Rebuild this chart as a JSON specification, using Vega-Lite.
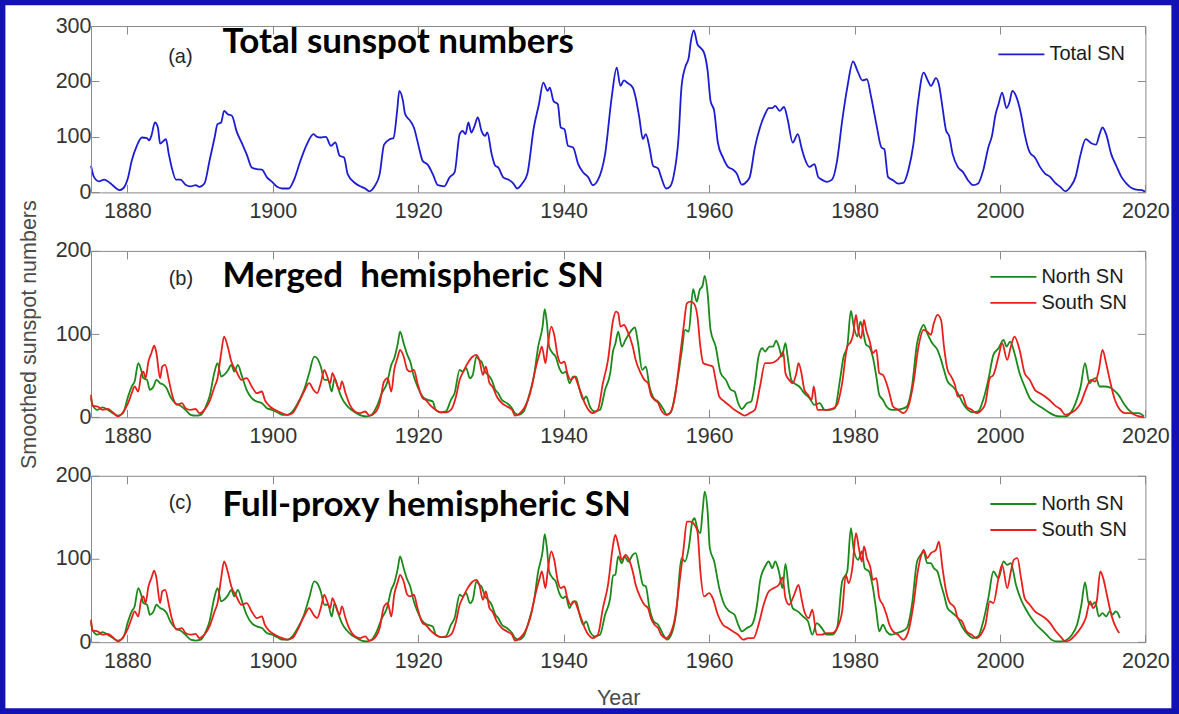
{
  "$schema": "https://vega.github.io/schema/vega-lite/v6.json",
  "background": "#1212b4",
  "padding": {"left": 5, "top": 5, "right": 8, "bottom": 6},
  "bounds": "flush",
  "spacing": 57.9,
  "resolve": {"scale": {"color": "independent"}, "legend": {"color": "independent"}},
  "config": {
    "view": {"stroke": null},
    "font": "Liberation Sans",
    "line": {"interpolate": "monotone"},
    "axis": {
      "zindex": 1, "grid": false,
      "domainColor": "#8a8a8a", "domainWidth": 1,
      "tickColor": "#8a8a8a", "tickWidth": 1, "tickSize": -8,
      "labelColor": "#333333", "labelFontSize": 21.5, "labelFont": "Liberation Sans",
      "labelFlush": false, "labelOverlap": false,
      "titleFont": "Liberation Sans", "titleFontSize": 21.5, "titleFontWeight": "normal", "titleColor": "#4a4a4a"
    },
    "legend": {
      "orient": "none", "title": null, "symbolType": "M-1,0H3", "symbolSize": 529, "symbolStrokeWidth": 1.8,
      "labelFont": "Liberation Sans", "labelFontSize": 20, "labelColor": "#1a1a1a",
      "labelOffset": 27, "padding": 0, "rowPadding": 3
    }
  },
  "datasets": {
    "total": [
      {"year":1875.0,"sn":48},{"year":1875.4,"sn":28},{"year":1876.1,"sn":20},{"year":1876.8,"sn":23},{"year":1877.3,"sn":20},{"year":1877.8,"sn":15},{"year":1878.5,"sn":7},{"year":1878.9,"sn":4},{"year":1879.4,"sn":7},{"year":1880.1,"sn":27},{"year":1880.6,"sn":57},{"year":1881.3,"sn":84},{"year":1882.0,"sn":99},{"year":1882.7,"sn":98},{"year":1883.0,"sn":94},{"year":1883.3,"sn":102},{"year":1883.8,"sn":126},{"year":1884.2,"sn":117},{"year":1884.5,"sn":88},{"year":1885.0,"sn":93},{"year":1885.3,"sn":96},{"year":1885.7,"sn":69},{"year":1886.1,"sn":45},{"year":1886.7,"sn":23},{"year":1887.3,"sn":23},{"year":1888.0,"sn":14},{"year":1888.7,"sn":11},{"year":1889.4,"sn":13},{"year":1889.9,"sn":10},{"year":1890.6,"sn":16},{"year":1891.3,"sn":57},{"year":1892.0,"sn":99},{"year":1892.4,"sn":123},{"year":1892.9,"sn":126},{"year":1893.3,"sn":147},{"year":1893.8,"sn":141},{"year":1894.4,"sn":138},{"year":1895.0,"sn":111},{"year":1895.7,"sn":90},{"year":1896.4,"sn":69},{"year":1897.1,"sn":45},{"year":1897.8,"sn":42},{"year":1898.5,"sn":41},{"year":1899.2,"sn":27},{"year":1899.9,"sn":19},{"year":1900.6,"sn":10},{"year":1901.3,"sn":7},{"year":1902.2,"sn":7},{"year":1902.9,"sn":22},{"year":1903.8,"sn":57},{"year":1904.7,"sn":87},{"year":1905.6,"sn":105},{"year":1906.1,"sn":100},{"year":1906.6,"sn":99},{"year":1907.3,"sn":100},{"year":1908.0,"sn":84},{"year":1908.6,"sn":90},{"year":1909.2,"sn":66},{"year":1909.8,"sn":63},{"year":1910.3,"sn":33},{"year":1911.3,"sn":17},{"year":1912.2,"sn":10},{"year":1912.7,"sn":7},{"year":1913.3,"sn":2},{"year":1914.0,"sn":11},{"year":1914.7,"sn":33},{"year":1915.3,"sn":86},{"year":1916.1,"sn":96},{"year":1916.6,"sn":98},{"year":1917.1,"sn":147},{"year":1917.4,"sn":183},{"year":1917.9,"sn":165},{"year":1918.2,"sn":141},{"year":1918.9,"sn":129},{"year":1919.4,"sn":117},{"year":1920.1,"sn":81},{"year":1920.6,"sn":57},{"year":1921.3,"sn":50},{"year":1922.0,"sn":33},{"year":1922.7,"sn":13},{"year":1923.6,"sn":11},{"year":1924.3,"sn":27},{"year":1925.0,"sn":36},{"year":1925.7,"sn":105},{"year":1926.1,"sn":111},{"year":1926.5,"sn":105},{"year":1926.9,"sn":126},{"year":1927.3,"sn":108},{"year":1927.7,"sn":118},{"year":1928.2,"sn":135},{"year":1928.7,"sn":111},{"year":1929.2,"sn":102},{"year":1929.5,"sn":108},{"year":1930.1,"sn":69},{"year":1930.6,"sn":48},{"year":1931.0,"sn":45},{"year":1931.7,"sn":27},{"year":1932.4,"sn":23},{"year":1933.1,"sn":16},{"year":1933.6,"sn":7},{"year":1934.3,"sn":16},{"year":1935.0,"sn":33},{"year":1935.9,"sn":117},{"year":1936.6,"sn":159},{"year":1937.2,"sn":198},{"year":1937.8,"sn":183},{"year":1938.1,"sn":189},{"year":1938.6,"sn":165},{"year":1939.2,"sn":159},{"year":1939.6,"sn":117},{"year":1940.1,"sn":114},{"year":1940.6,"sn":84},{"year":1941.3,"sn":81},{"year":1942.0,"sn":51},{"year":1942.7,"sn":36},{"year":1943.4,"sn":27},{"year":1944.0,"sn":13},{"year":1944.7,"sn":22},{"year":1945.7,"sn":69},{"year":1946.6,"sn":171},{"year":1947.3,"sn":225},{"year":1947.8,"sn":192},{"year":1948.3,"sn":202},{"year":1948.7,"sn":198},{"year":1949.5,"sn":189},{"year":1949.9,"sn":171},{"year":1950.4,"sn":135},{"year":1950.9,"sn":96},{"year":1951.3,"sn":105},{"year":1951.8,"sn":81},{"year":1952.3,"sn":48},{"year":1953.0,"sn":43},{"year":1953.4,"sn":28},{"year":1954.1,"sn":7},{"year":1954.6,"sn":10},{"year":1955.1,"sn":28},{"year":1955.8,"sn":99},{"year":1956.2,"sn":189},{"year":1956.7,"sn":225},{"year":1957.2,"sn":243},{"year":1957.5,"sn":273},{"year":1957.9,"sn":292},{"year":1958.4,"sn":267},{"year":1958.8,"sn":261},{"year":1959.3,"sn":252},{"year":1959.8,"sn":219},{"year":1960.2,"sn":165},{"year":1960.7,"sn":147},{"year":1961.2,"sn":90},{"year":1961.9,"sn":63},{"year":1962.6,"sn":46},{"year":1963.3,"sn":41},{"year":1963.8,"sn":34},{"year":1964.5,"sn":14},{"year":1965.2,"sn":20},{"year":1965.6,"sn":28},{"year":1966.3,"sn":81},{"year":1967.0,"sn":117},{"year":1967.7,"sn":141},{"year":1968.2,"sn":152},{"year":1968.7,"sn":152},{"year":1969.1,"sn":156},{"year":1969.7,"sn":147},{"year":1970.3,"sn":154},{"year":1970.8,"sn":132},{"year":1971.5,"sn":90},{"year":1972.2,"sn":105},{"year":1972.7,"sn":81},{"year":1973.1,"sn":63},{"year":1973.8,"sn":46},{"year":1974.5,"sn":51},{"year":1975.0,"sn":28},{"year":1975.5,"sn":23},{"year":1976.2,"sn":19},{"year":1976.9,"sn":23},{"year":1977.6,"sn":57},{"year":1978.3,"sn":129},{"year":1979.0,"sn":189},{"year":1979.8,"sn":236},{"year":1980.4,"sn":219},{"year":1981.1,"sn":202},{"year":1981.7,"sn":204},{"year":1982.3,"sn":171},{"year":1983.0,"sn":123},{"year":1983.7,"sn":81},{"year":1984.1,"sn":78},{"year":1984.6,"sn":28},{"year":1985.3,"sn":22},{"year":1986.0,"sn":16},{"year":1986.7,"sn":17},{"year":1987.4,"sn":40},{"year":1988.1,"sn":87},{"year":1988.7,"sn":159},{"year":1989.5,"sn":216},{"year":1990.1,"sn":201},{"year":1990.5,"sn":192},{"year":1991.2,"sn":206},{"year":1991.6,"sn":195},{"year":1992.1,"sn":153},{"year":1992.6,"sn":111},{"year":1993.0,"sn":102},{"year":1993.5,"sn":69},{"year":1994.2,"sn":46},{"year":1994.9,"sn":37},{"year":1995.6,"sn":22},{"year":1996.3,"sn":13},{"year":1997.0,"sn":16},{"year":1997.7,"sn":40},{"year":1998.4,"sn":81},{"year":1998.9,"sn":102},{"year":1999.4,"sn":141},{"year":1999.8,"sn":159},{"year":2000.3,"sn":180},{"year":2000.9,"sn":152},{"year":2001.3,"sn":162},{"year":2001.7,"sn":183},{"year":2002.2,"sn":174},{"year":2002.9,"sn":141},{"year":2003.4,"sn":105},{"year":2004.1,"sn":72},{"year":2004.8,"sn":63},{"year":2005.5,"sn":46},{"year":2006.2,"sn":34},{"year":2006.9,"sn":28},{"year":2007.6,"sn":17},{"year":2008.3,"sn":10},{"year":2009.0,"sn":2},{"year":2009.7,"sn":10},{"year":2010.4,"sn":28},{"year":2011.1,"sn":69},{"year":2011.8,"sn":96},{"year":2012.5,"sn":89},{"year":2013.2,"sn":86},{"year":2013.7,"sn":105},{"year":2014.1,"sn":117},{"year":2014.6,"sn":105},{"year":2015.3,"sn":69},{"year":2016.0,"sn":48},{"year":2016.7,"sn":28},{"year":2017.4,"sn":16},{"year":2018.1,"sn":8},{"year":2018.8,"sn":5},{"year":2019.5,"sn":4},{"year":2020.0,"sn":1}
    ],
    "hemi": [
      {"year":1875.0,"sn":24,"series":"North SN","set":"bc"},{"year":1875.2,"sn":15,"series":"North SN","set":"bc"},{"year":1875.9,"sn":9,"series":"North SN","set":"bc"},{"year":1876.6,"sn":12,"series":"North SN","set":"bc"},{"year":1877.3,"sn":9,"series":"North SN","set":"bc"},{"year":1878.0,"sn":5,"series":"North SN","set":"bc"},{"year":1878.7,"sn":2,"series":"North SN","set":"bc"},{"year":1879.4,"sn":5,"series":"North SN","set":"bc"},{"year":1880.1,"sn":25,"series":"North SN","set":"bc"},{"year":1880.6,"sn":37,"series":"North SN","set":"bc"},{"year":1881.0,"sn":43,"series":"North SN","set":"bc"},{"year":1881.5,"sn":65,"series":"North SN","set":"bc"},{"year":1881.9,"sn":57,"series":"North SN","set":"bc"},{"year":1882.2,"sn":47,"series":"North SN","set":"bc"},{"year":1882.7,"sn":45,"series":"North SN","set":"bc"},{"year":1883.1,"sn":33,"series":"North SN","set":"bc"},{"year":1883.6,"sn":37,"series":"North SN","set":"bc"},{"year":1884.0,"sn":45,"series":"North SN","set":"bc"},{"year":1884.5,"sn":41,"series":"North SN","set":"bc"},{"year":1885.0,"sn":39,"series":"North SN","set":"bc"},{"year":1885.4,"sn":35,"series":"North SN","set":"bc"},{"year":1885.9,"sn":25,"series":"North SN","set":"bc"},{"year":1886.6,"sn":17,"series":"North SN","set":"bc"},{"year":1887.3,"sn":14,"series":"North SN","set":"bc"},{"year":1888.0,"sn":9,"series":"North SN","set":"bc"},{"year":1888.7,"sn":3,"series":"North SN","set":"bc"},{"year":1889.4,"sn":2,"series":"North SN","set":"bc"},{"year":1890.1,"sn":3,"series":"North SN","set":"bc"},{"year":1890.8,"sn":13,"series":"North SN","set":"bc"},{"year":1891.3,"sn":25,"series":"North SN","set":"bc"},{"year":1892.0,"sn":55,"series":"North SN","set":"bc"},{"year":1892.4,"sn":65,"series":"North SN","set":"bc"},{"year":1892.9,"sn":49,"series":"North SN","set":"bc"},{"year":1893.3,"sn":51,"series":"North SN","set":"bc"},{"year":1893.8,"sn":56,"series":"North SN","set":"bc"},{"year":1894.3,"sn":63,"series":"North SN","set":"bc"},{"year":1894.7,"sn":55,"series":"North SN","set":"bc"},{"year":1895.2,"sn":63,"series":"North SN","set":"bc"},{"year":1895.7,"sn":51,"series":"North SN","set":"bc"},{"year":1896.4,"sn":33,"series":"North SN","set":"bc"},{"year":1897.1,"sn":23,"series":"North SN","set":"bc"},{"year":1897.8,"sn":19,"series":"North SN","set":"bc"},{"year":1898.5,"sn":17,"series":"North SN","set":"bc"},{"year":1899.2,"sn":11,"series":"North SN","set":"bc"},{"year":1899.9,"sn":9,"series":"North SN","set":"bc"},{"year":1900.6,"sn":6,"series":"North SN","set":"bc"},{"year":1901.3,"sn":3,"series":"North SN","set":"bc"},{"year":1902.0,"sn":3,"series":"North SN","set":"bc"},{"year":1902.7,"sn":7,"series":"North SN","set":"bc"},{"year":1903.3,"sn":15,"series":"North SN","set":"bc"},{"year":1904.3,"sn":33,"series":"North SN","set":"bc"},{"year":1905.0,"sn":53,"series":"North SN","set":"bc"},{"year":1905.7,"sn":73,"series":"North SN","set":"bc"},{"year":1906.1,"sn":71,"series":"North SN","set":"bc"},{"year":1906.6,"sn":61,"series":"North SN","set":"bc"},{"year":1907.1,"sn":45,"series":"North SN","set":"bc"},{"year":1907.6,"sn":45,"series":"North SN","set":"bc"},{"year":1908.1,"sn":31,"series":"North SN","set":"bc"},{"year":1908.5,"sn":47,"series":"North SN","set":"bc"},{"year":1908.9,"sn":37,"series":"North SN","set":"bc"},{"year":1909.5,"sn":23,"series":"North SN","set":"bc"},{"year":1910.1,"sn":15,"series":"North SN","set":"bc"},{"year":1910.8,"sn":9,"series":"North SN","set":"bc"},{"year":1911.5,"sn":5,"series":"North SN","set":"bc"},{"year":1912.2,"sn":2,"series":"North SN","set":"bc"},{"year":1912.9,"sn":1,"series":"North SN","set":"bc"},{"year":1913.6,"sn":3,"series":"North SN","set":"bc"},{"year":1914.3,"sn":13,"series":"North SN","set":"bc"},{"year":1915.0,"sn":29,"series":"North SN","set":"bc"},{"year":1915.7,"sn":41,"series":"North SN","set":"bc"},{"year":1916.3,"sn":63,"series":"North SN","set":"bc"},{"year":1916.7,"sn":71,"series":"North SN","set":"bc"},{"year":1917.2,"sn":89,"series":"North SN","set":"bc"},{"year":1917.5,"sn":103,"series":"North SN","set":"bc"},{"year":1918.0,"sn":89,"series":"North SN","set":"bc"},{"year":1918.5,"sn":75,"series":"North SN","set":"bc"},{"year":1918.9,"sn":67,"series":"North SN","set":"bc"},{"year":1919.4,"sn":49,"series":"North SN","set":"bc"},{"year":1919.9,"sn":37,"series":"North SN","set":"bc"},{"year":1920.6,"sn":25,"series":"North SN","set":"bc"},{"year":1921.3,"sn":21,"series":"North SN","set":"bc"},{"year":1922.0,"sn":19,"series":"North SN","set":"bc"},{"year":1922.4,"sn":9,"series":"North SN","set":"bc"},{"year":1923.1,"sn":6,"series":"North SN","set":"bc"},{"year":1923.8,"sn":7,"series":"North SN","set":"bc"},{"year":1924.5,"sn":21,"series":"North SN","set":"bc"},{"year":1925.0,"sn":29,"series":"North SN","set":"bc"},{"year":1925.7,"sn":57,"series":"North SN","set":"bc"},{"year":1926.1,"sn":55,"series":"North SN","set":"bc"},{"year":1926.6,"sn":59,"series":"North SN","set":"bc"},{"year":1927.1,"sn":47,"series":"North SN","set":"bc"},{"year":1927.5,"sn":51,"series":"North SN","set":"bc"},{"year":1928.0,"sn":73,"series":"North SN","set":"bc"},{"year":1928.4,"sn":69,"series":"North SN","set":"bc"},{"year":1928.7,"sn":67,"series":"North SN","set":"bc"},{"year":1929.2,"sn":55,"series":"North SN","set":"bc"},{"year":1929.6,"sn":51,"series":"North SN","set":"bc"},{"year":1930.1,"sn":45,"series":"North SN","set":"bc"},{"year":1930.6,"sn":33,"series":"North SN","set":"bc"},{"year":1931.0,"sn":29,"series":"North SN","set":"bc"},{"year":1931.5,"sn":21,"series":"North SN","set":"bc"},{"year":1932.2,"sn":17,"series":"North SN","set":"bc"},{"year":1932.9,"sn":11,"series":"North SN","set":"bc"},{"year":1933.3,"sn":5,"series":"North SN","set":"bc"},{"year":1933.8,"sn":3,"series":"North SN","set":"bc"},{"year":1934.5,"sn":7,"series":"North SN","set":"bc"},{"year":1935.2,"sn":25,"series":"North SN","set":"bc"},{"year":1935.9,"sn":49,"series":"North SN","set":"bc"},{"year":1936.5,"sn":85,"series":"North SN","set":"bc"},{"year":1937.1,"sn":109,"series":"North SN","set":"bc"},{"year":1937.4,"sn":130,"series":"North SN","set":"bc"},{"year":1937.7,"sn":113,"series":"North SN","set":"bc"},{"year":1938.0,"sn":85,"series":"North SN","set":"bc"},{"year":1938.5,"sn":77,"series":"North SN","set":"bc"},{"year":1938.9,"sn":73,"series":"North SN","set":"bc"},{"year":1939.4,"sn":59,"series":"North SN","set":"bc"},{"year":1939.9,"sn":53,"series":"North SN","set":"bc"},{"year":1940.3,"sn":55,"series":"North SN","set":"bc"},{"year":1940.8,"sn":41,"series":"North SN","set":"bc"},{"year":1941.3,"sn":49,"series":"North SN","set":"bc"},{"year":1941.7,"sn":49,"series":"North SN","set":"bc"},{"year":1942.2,"sn":33,"series":"North SN","set":"bc"},{"year":1942.7,"sn":21,"series":"North SN","set":"bc"},{"year":1943.1,"sn":25,"series":"North SN","set":"bc"},{"year":1943.6,"sn":13,"series":"North SN","set":"bc"},{"year":1944.3,"sn":7,"series":"North SN","set":"bc"},{"year":1945.0,"sn":9,"series":"North SN","set":"bc"},{"year":1945.7,"sn":33,"series":"North SN","set":"bc"},{"year":1946.4,"sn":53,"series":"North SN","set":"bc"},{"year":1946.8,"sn":80,"series":"North SN","set":"bc"},

      {"year":1947.1,"sn":88,"series":"North SN","set":"b"},{"year":1947.5,"sn":103,"series":"North SN","set":"b"},{"year":1948.0,"sn":85,"series":"North SN","set":"b"},{"year":1948.5,"sn":93,"series":"North SN","set":"b"},{"year":1949.2,"sn":103,"series":"North SN","set":"b"},{"year":1949.8,"sn":108,"series":"North SN","set":"b"},{"year":1950.2,"sn":91,"series":"North SN","set":"b"},{"year":1950.8,"sn":57,"series":"North SN","set":"b"},{"year":1951.3,"sn":61,"series":"North SN","set":"b"},{"year":1951.8,"sn":37,"series":"North SN","set":"b"},{"year":1952.4,"sn":23,"series":"North SN","set":"b"},{"year":1953.0,"sn":19,"series":"North SN","set":"b"},{"year":1953.7,"sn":10,"series":"North SN","set":"b"},{"year":1954.2,"sn":3,"series":"North SN","set":"b"},{"year":1954.8,"sn":7,"series":"North SN","set":"b"},{"year":1955.5,"sn":37,"series":"North SN","set":"b"},{"year":1956.2,"sn":77,"series":"North SN","set":"b"},{"year":1956.7,"sn":105,"series":"North SN","set":"b"},{"year":1957.2,"sn":103,"series":"North SN","set":"b"},{"year":1957.8,"sn":154,"series":"North SN","set":"b"},{"year":1958.3,"sn":139,"series":"North SN","set":"b"},{"year":1958.7,"sn":153,"series":"North SN","set":"b"},{"year":1959.1,"sn":158,"series":"North SN","set":"b"},{"year":1959.4,"sn":170,"series":"North SN","set":"b"},{"year":1959.8,"sn":149,"series":"North SN","set":"b"},{"year":1960.2,"sn":105,"series":"North SN","set":"b"},{"year":1960.9,"sn":85,"series":"North SN","set":"b"},{"year":1961.6,"sn":53,"series":"North SN","set":"b"},{"year":1962.3,"sn":45,"series":"North SN","set":"b"},{"year":1963.0,"sn":33,"series":"North SN","set":"b"},{"year":1963.5,"sn":31,"series":"North SN","set":"b"},{"year":1964.0,"sn":17,"series":"North SN","set":"b"},{"year":1964.5,"sn":10,"series":"North SN","set":"b"},{"year":1965.2,"sn":17,"series":"North SN","set":"b"},{"year":1965.8,"sn":19,"series":"North SN","set":"b"},{"year":1966.3,"sn":41,"series":"North SN","set":"b"},{"year":1966.8,"sn":73,"series":"North SN","set":"b"},{"year":1967.3,"sn":83,"series":"North SN","set":"b"},{"year":1967.7,"sn":79,"series":"North SN","set":"b"},{"year":1968.3,"sn":85,"series":"North SN","set":"b"},{"year":1968.8,"sn":85,"series":"North SN","set":"b"},{"year":1969.2,"sn":92,"series":"North SN","set":"b"},{"year":1969.6,"sn":85,"series":"North SN","set":"b"},{"year":1970.0,"sn":73,"series":"North SN","set":"b"},{"year":1970.5,"sn":89,"series":"North SN","set":"b"},{"year":1970.8,"sn":73,"series":"North SN","set":"b"},{"year":1971.3,"sn":45,"series":"North SN","set":"b"},{"year":1971.7,"sn":41,"series":"North SN","set":"b"},{"year":1972.4,"sn":37,"series":"North SN","set":"b"},{"year":1973.1,"sn":29,"series":"North SN","set":"b"},{"year":1973.8,"sn":23,"series":"North SN","set":"b"},{"year":1974.5,"sn":15,"series":"North SN","set":"b"},{"year":1975.2,"sn":17,"series":"North SN","set":"b"},{"year":1975.9,"sn":9,"series":"North SN","set":"b"},{"year":1976.6,"sn":9,"series":"North SN","set":"b"},{"year":1977.3,"sn":11,"series":"North SN","set":"b"},{"year":1978.0,"sn":45,"series":"North SN","set":"b"},{"year":1978.5,"sn":73,"series":"North SN","set":"b"},{"year":1979.0,"sn":85,"series":"North SN","set":"b"},{"year":1979.5,"sn":128,"series":"North SN","set":"b"},{"year":1979.9,"sn":109,"series":"North SN","set":"b"},{"year":1980.4,"sn":97,"series":"North SN","set":"b"},{"year":1980.8,"sn":115,"series":"North SN","set":"b"},{"year":1981.1,"sn":107,"series":"North SN","set":"b"},{"year":1981.6,"sn":87,"series":"North SN","set":"b"},{"year":1982.0,"sn":85,"series":"North SN","set":"b"},{"year":1982.5,"sn":73,"series":"North SN","set":"b"},{"year":1983.0,"sn":49,"series":"North SN","set":"b"},{"year":1983.4,"sn":27,"series":"North SN","set":"b"},{"year":1983.9,"sn":21,"series":"North SN","set":"b"},{"year":1984.4,"sn":13,"series":"North SN","set":"b"},{"year":1985.1,"sn":9,"series":"North SN","set":"b"},{"year":1985.8,"sn":9,"series":"North SN","set":"b"},{"year":1986.5,"sn":10,"series":"North SN","set":"b"},{"year":1987.2,"sn":13,"series":"North SN","set":"b"},{"year":1987.9,"sn":37,"series":"North SN","set":"b"},{"year":1988.6,"sn":89,"series":"North SN","set":"b"},{"year":1989.1,"sn":105,"series":"North SN","set":"b"},{"year":1989.5,"sn":111,"series":"North SN","set":"b"},{"year":1990.0,"sn":101,"series":"North SN","set":"b"},{"year":1990.7,"sn":89,"series":"North SN","set":"b"},{"year":1991.4,"sn":81,"series":"North SN","set":"b"},{"year":1991.9,"sn":69,"series":"North SN","set":"b"},{"year":1992.3,"sn":57,"series":"North SN","set":"b"},{"year":1992.8,"sn":43,"series":"North SN","set":"b"},{"year":1993.5,"sn":37,"series":"North SN","set":"b"},{"year":1994.2,"sn":29,"series":"North SN","set":"b"},{"year":1994.9,"sn":17,"series":"North SN","set":"b"},{"year":1995.6,"sn":9,"series":"North SN","set":"b"},{"year":1996.3,"sn":6,"series":"North SN","set":"b"},{"year":1997.0,"sn":7,"series":"North SN","set":"b"},{"year":1997.7,"sn":21,"series":"North SN","set":"b"},{"year":1998.4,"sn":45,"series":"North SN","set":"b"},{"year":1999.1,"sn":75,"series":"North SN","set":"b"},{"year":1999.8,"sn":83,"series":"North SN","set":"b"},{"year":2000.5,"sn":93,"series":"North SN","set":"b"},{"year":2000.9,"sn":85,"series":"North SN","set":"b"},{"year":2001.4,"sn":91,"series":"North SN","set":"b"},{"year":2002.0,"sn":77,"series":"North SN","set":"b"},{"year":2002.7,"sn":53,"series":"North SN","set":"b"},{"year":2003.4,"sn":37,"series":"North SN","set":"b"},{"year":2004.1,"sn":23,"series":"North SN","set":"b"},{"year":2004.8,"sn":17,"series":"North SN","set":"b"},{"year":2005.5,"sn":13,"series":"North SN","set":"b"},{"year":2006.2,"sn":9,"series":"North SN","set":"b"},{"year":2006.9,"sn":5,"series":"North SN","set":"b"},{"year":2007.6,"sn":2,"series":"North SN","set":"b"},{"year":2008.3,"sn":1,"series":"North SN","set":"b"},{"year":2009.0,"sn":1,"series":"North SN","set":"b"},{"year":2009.7,"sn":5,"series":"North SN","set":"b"},{"year":2010.4,"sn":17,"series":"North SN","set":"b"},{"year":2011.1,"sn":37,"series":"North SN","set":"b"},{"year":2011.7,"sn":65,"series":"North SN","set":"b"},{"year":2012.3,"sn":41,"series":"North SN","set":"b"},{"year":2012.7,"sn":45,"series":"North SN","set":"b"},{"year":2013.2,"sn":47,"series":"North SN","set":"b"},{"year":2013.7,"sn":37,"series":"North SN","set":"b"},{"year":2014.4,"sn":37,"series":"North SN","set":"b"},{"year":2015.1,"sn":36,"series":"North SN","set":"b"},{"year":2015.6,"sn":33,"series":"North SN","set":"b"},{"year":2016.3,"sn":27,"series":"North SN","set":"b"},{"year":2017.0,"sn":17,"series":"North SN","set":"b"},{"year":2017.7,"sn":9,"series":"North SN","set":"b"},{"year":2018.4,"sn":5,"series":"North SN","set":"b"},{"year":2019.1,"sn":5,"series":"North SN","set":"b"},{"year":2019.8,"sn":1,"series":"North SN","set":"b"},

      {"year":1947.1,"sn":81,"series":"North SN","set":"c"},{"year":1947.5,"sn":103,"series":"North SN","set":"c"},{"year":1948.0,"sn":95,"series":"North SN","set":"c"},{"year":1948.4,"sn":103,"series":"North SN","set":"c"},{"year":1948.9,"sn":97,"series":"North SN","set":"c"},{"year":1949.5,"sn":105,"series":"North SN","set":"c"},{"year":1949.9,"sn":107,"series":"North SN","set":"c"},{"year":1950.4,"sn":89,"series":"North SN","set":"c"},{"year":1950.9,"sn":69,"series":"North SN","set":"c"},{"year":1951.3,"sn":67,"series":"North SN","set":"c"},{"year":1951.8,"sn":41,"series":"North SN","set":"c"},{"year":1952.4,"sn":25,"series":"North SN","set":"c"},{"year":1953.0,"sn":21,"series":"North SN","set":"c"},{"year":1953.7,"sn":9,"series":"North SN","set":"c"},{"year":1954.2,"sn":3,"series":"North SN","set":"c"},{"year":1954.8,"sn":9,"series":"North SN","set":"c"},{"year":1955.5,"sn":37,"series":"North SN","set":"c"},{"year":1956.2,"sn":101,"series":"North SN","set":"c"},{"year":1956.7,"sn":97,"series":"North SN","set":"c"},{"year":1957.2,"sn":113,"series":"North SN","set":"c"},{"year":1957.7,"sn":145,"series":"North SN","set":"c"},{"year":1958.0,"sn":149,"series":"North SN","set":"c"},{"year":1958.4,"sn":136,"series":"North SN","set":"c"},{"year":1958.8,"sn":131,"series":"North SN","set":"c"},{"year":1959.1,"sn":157,"series":"North SN","set":"c"},{"year":1959.4,"sn":181,"series":"North SN","set":"c"},{"year":1959.8,"sn":157,"series":"North SN","set":"c"},{"year":1960.1,"sn":113,"series":"North SN","set":"c"},{"year":1960.7,"sn":97,"series":"North SN","set":"c"},{"year":1961.4,"sn":65,"series":"North SN","set":"c"},{"year":1962.1,"sn":45,"series":"North SN","set":"c"},{"year":1962.8,"sn":37,"series":"North SN","set":"c"},{"year":1963.5,"sn":33,"series":"North SN","set":"c"},{"year":1964.0,"sn":21,"series":"North SN","set":"c"},{"year":1964.5,"sn":13,"series":"North SN","set":"c"},{"year":1965.2,"sn":17,"series":"North SN","set":"c"},{"year":1965.9,"sn":21,"series":"North SN","set":"c"},{"year":1966.6,"sn":45,"series":"North SN","set":"c"},{"year":1967.0,"sn":73,"series":"North SN","set":"c"},{"year":1967.7,"sn":91,"series":"North SN","set":"c"},{"year":1968.2,"sn":97,"series":"North SN","set":"c"},{"year":1968.7,"sn":89,"series":"North SN","set":"c"},{"year":1969.1,"sn":97,"series":"North SN","set":"c"},{"year":1969.6,"sn":85,"series":"North SN","set":"c"},{"year":1970.1,"sn":65,"series":"North SN","set":"c"},{"year":1970.5,"sn":94,"series":"North SN","set":"c"},{"year":1971.0,"sn":61,"series":"North SN","set":"c"},{"year":1971.5,"sn":41,"series":"North SN","set":"c"},{"year":1972.2,"sn":37,"series":"North SN","set":"c"},{"year":1972.9,"sn":31,"series":"North SN","set":"c"},{"year":1973.6,"sn":25,"series":"North SN","set":"c"},{"year":1974.2,"sn":9,"series":"North SN","set":"c"},{"year":1974.8,"sn":23,"series":"North SN","set":"c"},{"year":1975.5,"sn":17,"series":"North SN","set":"c"},{"year":1976.2,"sn":9,"series":"North SN","set":"c"},{"year":1976.9,"sn":9,"series":"North SN","set":"c"},{"year":1977.6,"sn":17,"series":"North SN","set":"c"},{"year":1978.3,"sn":73,"series":"North SN","set":"c"},{"year":1979.0,"sn":85,"series":"North SN","set":"c"},{"year":1979.5,"sn":137,"series":"North SN","set":"c"},{"year":1979.9,"sn":111,"series":"North SN","set":"c"},{"year":1980.5,"sn":99,"series":"North SN","set":"c"},{"year":1981.0,"sn":109,"series":"North SN","set":"c"},{"year":1981.4,"sn":89,"series":"North SN","set":"c"},{"year":1982.0,"sn":85,"series":"North SN","set":"c"},{"year":1982.5,"sn":67,"series":"North SN","set":"c"},{"year":1983.0,"sn":37,"series":"North SN","set":"c"},{"year":1983.4,"sn":13,"series":"North SN","set":"c"},{"year":1983.9,"sn":21,"series":"North SN","set":"c"},{"year":1984.4,"sn":13,"series":"North SN","set":"c"},{"year":1985.1,"sn":9,"series":"North SN","set":"c"},{"year":1985.8,"sn":11,"series":"North SN","set":"c"},{"year":1986.5,"sn":13,"series":"North SN","set":"c"},{"year":1987.2,"sn":17,"series":"North SN","set":"c"},{"year":1987.9,"sn":45,"series":"North SN","set":"c"},{"year":1988.6,"sn":97,"series":"North SN","set":"c"},{"year":1989.1,"sn":105,"series":"North SN","set":"c"},{"year":1989.5,"sn":109,"series":"North SN","set":"c"},{"year":1990.0,"sn":95,"series":"North SN","set":"c"},{"year":1990.5,"sn":95,"series":"North SN","set":"c"},{"year":1990.9,"sn":89,"series":"North SN","set":"c"},{"year":1991.4,"sn":85,"series":"North SN","set":"c"},{"year":1991.9,"sn":69,"series":"North SN","set":"c"},{"year":1992.3,"sn":57,"series":"North SN","set":"c"},{"year":1992.8,"sn":41,"series":"North SN","set":"c"},{"year":1993.5,"sn":35,"series":"North SN","set":"c"},{"year":1994.2,"sn":29,"series":"North SN","set":"c"},{"year":1994.9,"sn":17,"series":"North SN","set":"c"},{"year":1995.6,"sn":9,"series":"North SN","set":"c"},{"year":1996.3,"sn":5,"series":"North SN","set":"c"},{"year":1997.0,"sn":7,"series":"North SN","set":"c"},{"year":1997.7,"sn":25,"series":"North SN","set":"c"},{"year":1998.4,"sn":53,"series":"North SN","set":"c"},{"year":1999.1,"sn":85,"series":"North SN","set":"c"},{"year":1999.8,"sn":77,"series":"North SN","set":"c"},{"year":2000.5,"sn":97,"series":"North SN","set":"c"},{"year":2001.0,"sn":93,"series":"North SN","set":"c"},{"year":2001.5,"sn":95,"series":"North SN","set":"c"},{"year":2002.2,"sn":69,"series":"North SN","set":"c"},{"year":2002.9,"sn":51,"series":"North SN","set":"c"},{"year":2003.6,"sn":39,"series":"North SN","set":"c"},{"year":2004.3,"sn":29,"series":"North SN","set":"c"},{"year":2005.0,"sn":21,"series":"North SN","set":"c"},{"year":2005.7,"sn":15,"series":"North SN","set":"c"},{"year":2006.4,"sn":9,"series":"North SN","set":"c"},{"year":2007.1,"sn":3,"series":"North SN","set":"c"},{"year":2007.8,"sn":1,"series":"North SN","set":"c"},{"year":2008.5,"sn":1,"series":"North SN","set":"c"},{"year":2009.2,"sn":3,"series":"North SN","set":"c"},{"year":2009.9,"sn":9,"series":"North SN","set":"c"},{"year":2010.6,"sn":21,"series":"North SN","set":"c"},{"year":2011.2,"sn":45,"series":"North SN","set":"c"},{"year":2011.7,"sn":72,"series":"North SN","set":"c"},{"year":2012.2,"sn":47,"series":"North SN","set":"c"},{"year":2012.6,"sn":45,"series":"North SN","set":"c"},{"year":2013.1,"sn":48,"series":"North SN","set":"c"},{"year":2013.6,"sn":31,"series":"North SN","set":"c"},{"year":2014.1,"sn":35,"series":"North SN","set":"c"},{"year":2014.6,"sn":31,"series":"North SN","set":"c"},{"year":2015.1,"sn":37,"series":"North SN","set":"c"},{"year":2015.5,"sn":33,"series":"North SN","set":"c"},{"year":2015.9,"sn":37,"series":"North SN","set":"c"},{"year":2016.2,"sn":35,"series":"North SN","set":"c"},{"year":2016.5,"sn":29,"series":"North SN","set":"c"},

      {"year":1875.0,"sn":27,"series":"South SN","set":"bc"},{"year":1875.2,"sn":14,"series":"South SN","set":"bc"},{"year":1875.9,"sn":13,"series":"South SN","set":"bc"},{"year":1876.6,"sn":9,"series":"South SN","set":"bc"},{"year":1877.3,"sn":10,"series":"South SN","set":"bc"},{"year":1878.0,"sn":6,"series":"South SN","set":"bc"},{"year":1878.7,"sn":1,"series":"South SN","set":"bc"},{"year":1879.4,"sn":6,"series":"South SN","set":"bc"},{"year":1880.1,"sn":17,"series":"South SN","set":"bc"},{"year":1880.6,"sn":29,"series":"South SN","set":"bc"},{"year":1881.0,"sn":37,"series":"South SN","set":"bc"},{"year":1881.5,"sn":31,"series":"South SN","set":"bc"},{"year":1881.9,"sn":51,"series":"South SN","set":"bc"},{"year":1882.2,"sn":55,"series":"South SN","set":"bc"},{"year":1882.5,"sn":47,"series":"South SN","set":"bc"},{"year":1882.9,"sn":67,"series":"South SN","set":"bc"},{"year":1883.3,"sn":77,"series":"South SN","set":"bc"},{"year":1883.7,"sn":86,"series":"South SN","set":"bc"},{"year":1884.0,"sn":77,"series":"South SN","set":"bc"},{"year":1884.5,"sn":47,"series":"South SN","set":"bc"},{"year":1884.8,"sn":61,"series":"South SN","set":"bc"},{"year":1885.2,"sn":63,"series":"South SN","set":"bc"},{"year":1885.7,"sn":45,"series":"South SN","set":"bc"},{"year":1886.1,"sn":29,"series":"South SN","set":"bc"},{"year":1886.8,"sn":15,"series":"South SN","set":"bc"},{"year":1887.5,"sn":17,"series":"South SN","set":"bc"},{"year":1888.0,"sn":11,"series":"South SN","set":"bc"},{"year":1888.7,"sn":9,"series":"South SN","set":"bc"},{"year":1889.4,"sn":10,"series":"South SN","set":"bc"},{"year":1889.9,"sn":5,"series":"South SN","set":"bc"},{"year":1890.6,"sn":9,"series":"South SN","set":"bc"},{"year":1891.3,"sn":19,"series":"South SN","set":"bc"},{"year":1892.0,"sn":37,"series":"South SN","set":"bc"},{"year":1892.4,"sn":47,"series":"South SN","set":"bc"},{"year":1892.9,"sn":77,"series":"South SN","set":"bc"},{"year":1893.3,"sn":97,"series":"South SN","set":"bc"},{"year":1893.8,"sn":85,"series":"South SN","set":"bc"},{"year":1894.3,"sn":67,"series":"South SN","set":"bc"},{"year":1895.0,"sn":55,"series":"South SN","set":"bc"},{"year":1895.7,"sn":45,"series":"South SN","set":"bc"},{"year":1896.4,"sn":47,"series":"South SN","set":"bc"},{"year":1897.1,"sn":37,"series":"South SN","set":"bc"},{"year":1897.8,"sn":29,"series":"South SN","set":"bc"},{"year":1898.5,"sn":31,"series":"South SN","set":"bc"},{"year":1898.9,"sn":21,"series":"South SN","set":"bc"},{"year":1899.6,"sn":13,"series":"South SN","set":"bc"},{"year":1900.3,"sn":9,"series":"South SN","set":"bc"},{"year":1901.0,"sn":6,"series":"South SN","set":"bc"},{"year":1902.0,"sn":3,"series":"South SN","set":"bc"},{"year":1902.7,"sn":5,"series":"South SN","set":"bc"},{"year":1903.3,"sn":13,"series":"South SN","set":"bc"},{"year":1904.3,"sn":31,"series":"South SN","set":"bc"},{"year":1905.0,"sn":41,"series":"South SN","set":"bc"},{"year":1905.6,"sn":33,"series":"South SN","set":"bc"},{"year":1906.1,"sn":29,"series":"South SN","set":"bc"},{"year":1906.6,"sn":41,"series":"South SN","set":"bc"},{"year":1907.1,"sn":57,"series":"South SN","set":"bc"},{"year":1907.4,"sn":51,"series":"South SN","set":"bc"},{"year":1907.9,"sn":41,"series":"South SN","set":"bc"},{"year":1908.2,"sn":53,"series":"South SN","set":"bc"},{"year":1908.6,"sn":45,"series":"South SN","set":"bc"},{"year":1909.2,"sn":33,"series":"South SN","set":"bc"},{"year":1909.5,"sn":43,"series":"South SN","set":"bc"},{"year":1910.0,"sn":29,"series":"South SN","set":"bc"},{"year":1910.6,"sn":15,"series":"South SN","set":"bc"},{"year":1911.3,"sn":7,"series":"South SN","set":"bc"},{"year":1912.0,"sn":5,"series":"South SN","set":"bc"},{"year":1912.7,"sn":7,"series":"South SN","set":"bc"},{"year":1913.3,"sn":2,"series":"South SN","set":"bc"},{"year":1914.0,"sn":5,"series":"South SN","set":"bc"},{"year":1914.7,"sn":17,"series":"South SN","set":"bc"},{"year":1915.3,"sn":43,"series":"South SN","set":"bc"},{"year":1915.8,"sn":47,"series":"South SN","set":"bc"},{"year":1916.3,"sn":31,"series":"South SN","set":"bc"},{"year":1916.7,"sn":57,"series":"South SN","set":"bc"},{"year":1917.2,"sn":73,"series":"South SN","set":"bc"},{"year":1917.5,"sn":81,"series":"South SN","set":"bc"},{"year":1918.0,"sn":73,"series":"South SN","set":"bc"},{"year":1918.5,"sn":57,"series":"South SN","set":"bc"},{"year":1918.9,"sn":55,"series":"South SN","set":"bc"},{"year":1919.4,"sn":57,"series":"South SN","set":"bc"},{"year":1919.9,"sn":41,"series":"South SN","set":"bc"},{"year":1920.6,"sn":23,"series":"South SN","set":"bc"},{"year":1921.0,"sn":21,"series":"South SN","set":"bc"},{"year":1921.7,"sn":14,"series":"South SN","set":"bc"},{"year":1922.4,"sn":9,"series":"South SN","set":"bc"},{"year":1923.1,"sn":6,"series":"South SN","set":"bc"},{"year":1923.8,"sn":6,"series":"South SN","set":"bc"},{"year":1924.5,"sn":9,"series":"South SN","set":"bc"},{"year":1925.2,"sn":25,"series":"South SN","set":"bc"},{"year":1925.7,"sn":45,"series":"South SN","set":"bc"},{"year":1926.1,"sn":53,"series":"South SN","set":"bc"},{"year":1926.8,"sn":65,"series":"South SN","set":"bc"},{"year":1927.5,"sn":73,"series":"South SN","set":"bc"},{"year":1928.0,"sn":75,"series":"South SN","set":"bc"},{"year":1928.4,"sn":69,"series":"South SN","set":"bc"},{"year":1928.9,"sn":51,"series":"South SN","set":"bc"},{"year":1929.3,"sn":61,"series":"South SN","set":"bc"},{"year":1929.8,"sn":41,"series":"South SN","set":"bc"},{"year":1930.2,"sn":37,"series":"South SN","set":"bc"},{"year":1930.8,"sn":25,"series":"South SN","set":"bc"},{"year":1931.5,"sn":17,"series":"South SN","set":"bc"},{"year":1932.2,"sn":13,"series":"South SN","set":"bc"},{"year":1932.9,"sn":9,"series":"South SN","set":"bc"},{"year":1933.3,"sn":2,"series":"South SN","set":"bc"},{"year":1934.0,"sn":5,"series":"South SN","set":"bc"},{"year":1934.7,"sn":13,"series":"South SN","set":"bc"},{"year":1935.4,"sn":29,"series":"South SN","set":"bc"},{"year":1936.1,"sn":57,"series":"South SN","set":"bc"},{"year":1936.7,"sn":77,"series":"South SN","set":"bc"},{"year":1937.0,"sn":85,"series":"South SN","set":"bc"},{"year":1937.5,"sn":65,"series":"South SN","set":"bc"},{"year":1937.8,"sn":85,"series":"South SN","set":"bc"},{"year":1938.3,"sn":109,"series":"South SN","set":"bc"},{"year":1938.7,"sn":99,"series":"South SN","set":"bc"},{"year":1939.2,"sn":73,"series":"South SN","set":"bc"},{"year":1939.6,"sn":65,"series":"South SN","set":"bc"},{"year":1940.1,"sn":67,"series":"South SN","set":"bc"},{"year":1940.5,"sn":53,"series":"South SN","set":"bc"},{"year":1941.0,"sn":45,"series":"South SN","set":"bc"},{"year":1941.5,"sn":49,"series":"South SN","set":"bc"},{"year":1941.9,"sn":41,"series":"South SN","set":"bc"},{"year":1942.4,"sn":29,"series":"South SN","set":"bc"},{"year":1942.9,"sn":17,"series":"South SN","set":"bc"},{"year":1943.6,"sn":7,"series":"South SN","set":"bc"},{"year":1944.0,"sn":5,"series":"South SN","set":"bc"},{"year":1944.7,"sn":9,"series":"South SN","set":"bc"},{"year":1945.4,"sn":41,"series":"South SN","set":"bc"},{"year":1946.1,"sn":69,"series":"South SN","set":"bc"},{"year":1946.8,"sn":117,"series":"South SN","set":"bc"},

      {"year":1947.2,"sn":127,"series":"South SN","set":"b"},{"year":1947.5,"sn":125,"series":"South SN","set":"b"},{"year":1947.8,"sn":109,"series":"South SN","set":"b"},{"year":1948.3,"sn":111,"series":"South SN","set":"b"},{"year":1948.7,"sn":105,"series":"South SN","set":"b"},{"year":1949.5,"sn":85,"series":"South SN","set":"b"},{"year":1949.9,"sn":69,"series":"South SN","set":"b"},{"year":1950.6,"sn":53,"series":"South SN","set":"b"},{"year":1951.1,"sn":45,"series":"South SN","set":"b"},{"year":1951.6,"sn":41,"series":"South SN","set":"b"},{"year":1952.0,"sn":27,"series":"South SN","set":"b"},{"year":1952.5,"sn":21,"series":"South SN","set":"b"},{"year":1953.0,"sn":17,"series":"South SN","set":"b"},{"year":1953.4,"sn":9,"series":"South SN","set":"b"},{"year":1954.1,"sn":3,"series":"South SN","set":"b"},{"year":1954.6,"sn":5,"series":"South SN","set":"b"},{"year":1955.3,"sn":25,"series":"South SN","set":"b"},{"year":1956.0,"sn":73,"series":"South SN","set":"b"},{"year":1956.5,"sn":109,"series":"South SN","set":"b"},{"year":1956.95,"sn":137,"series":"South SN","set":"b"},{"year":1957.4,"sn":139,"series":"South SN","set":"b"},{"year":1957.9,"sn":137,"series":"South SN","set":"b"},{"year":1958.4,"sn":121,"series":"South SN","set":"b"},{"year":1958.8,"sn":85,"series":"South SN","set":"b"},{"year":1959.2,"sn":65,"series":"South SN","set":"b"},{"year":1959.8,"sn":63,"series":"South SN","set":"b"},{"year":1960.5,"sn":61,"series":"South SN","set":"b"},{"year":1960.9,"sn":45,"series":"South SN","set":"b"},{"year":1961.4,"sn":25,"series":"South SN","set":"b"},{"year":1962.1,"sn":19,"series":"South SN","set":"b"},{"year":1962.8,"sn":14,"series":"South SN","set":"b"},{"year":1963.5,"sn":9,"series":"South SN","set":"b"},{"year":1964.2,"sn":5,"series":"South SN","set":"b"},{"year":1964.9,"sn":2,"series":"South SN","set":"b"},{"year":1965.6,"sn":5,"series":"South SN","set":"b"},{"year":1966.3,"sn":9,"series":"South SN","set":"b"},{"year":1967.0,"sn":37,"series":"South SN","set":"b"},{"year":1967.7,"sn":65,"series":"South SN","set":"b"},{"year":1968.4,"sn":65,"series":"South SN","set":"b"},{"year":1969.1,"sn":67,"series":"South SN","set":"b"},{"year":1969.8,"sn":73,"series":"South SN","set":"b"},{"year":1970.2,"sn":79,"series":"South SN","set":"b"},{"year":1970.5,"sn":53,"series":"South SN","set":"b"},{"year":1971.0,"sn":45,"series":"South SN","set":"b"},{"year":1971.5,"sn":41,"series":"South SN","set":"b"},{"year":1972.0,"sn":53,"series":"South SN","set":"b"},{"year":1972.3,"sn":65,"series":"South SN","set":"b"},{"year":1972.7,"sn":53,"series":"South SN","set":"b"},{"year":1973.1,"sn":33,"series":"South SN","set":"b"},{"year":1973.6,"sn":27,"series":"South SN","set":"b"},{"year":1974.1,"sn":21,"series":"South SN","set":"b"},{"year":1974.4,"sn":37,"series":"South SN","set":"b"},{"year":1974.9,"sn":9,"series":"South SN","set":"b"},{"year":1975.5,"sn":9,"series":"South SN","set":"b"},{"year":1976.2,"sn":9,"series":"South SN","set":"b"},{"year":1976.9,"sn":10,"series":"South SN","set":"b"},{"year":1977.6,"sn":15,"series":"South SN","set":"b"},{"year":1978.3,"sn":41,"series":"South SN","set":"b"},{"year":1979.0,"sn":85,"series":"South SN","set":"b"},{"year":1979.5,"sn":91,"series":"South SN","set":"b"},{"year":1979.8,"sn":99,"series":"South SN","set":"b"},{"year":1980.2,"sn":123,"series":"South SN","set":"b"},{"year":1980.5,"sn":105,"series":"South SN","set":"b"},{"year":1980.9,"sn":95,"series":"South SN","set":"b"},{"year":1981.3,"sn":117,"series":"South SN","set":"b"},{"year":1981.6,"sn":105,"series":"South SN","set":"b"},{"year":1982.1,"sn":91,"series":"South SN","set":"b"},{"year":1982.5,"sn":77,"series":"South SN","set":"b"},{"year":1983.0,"sn":81,"series":"South SN","set":"b"},{"year":1983.4,"sn":53,"series":"South SN","set":"b"},{"year":1983.9,"sn":51,"series":"South SN","set":"b"},{"year":1984.4,"sn":41,"series":"South SN","set":"b"},{"year":1984.8,"sn":29,"series":"South SN","set":"b"},{"year":1985.3,"sn":13,"series":"South SN","set":"b"},{"year":1986.0,"sn":9,"series":"South SN","set":"b"},{"year":1986.7,"sn":5,"series":"South SN","set":"b"},{"year":1987.4,"sn":13,"series":"South SN","set":"b"},{"year":1988.1,"sn":41,"series":"South SN","set":"b"},{"year":1988.8,"sn":85,"series":"South SN","set":"b"},{"year":1989.5,"sn":105,"series":"South SN","set":"b"},{"year":1990.0,"sn":103,"series":"South SN","set":"b"},{"year":1990.5,"sn":99,"series":"South SN","set":"b"},{"year":1990.9,"sn":113,"series":"South SN","set":"b"},{"year":1991.4,"sn":123,"series":"South SN","set":"b"},{"year":1991.9,"sn":117,"series":"South SN","set":"b"},{"year":1992.3,"sn":85,"series":"South SN","set":"b"},{"year":1992.8,"sn":57,"series":"South SN","set":"b"},{"year":1993.3,"sn":49,"series":"South SN","set":"b"},{"year":1993.8,"sn":39,"series":"South SN","set":"b"},{"year":1994.2,"sn":25,"series":"South SN","set":"b"},{"year":1994.8,"sn":27,"series":"South SN","set":"b"},{"year":1995.4,"sn":13,"series":"South SN","set":"b"},{"year":1996.1,"sn":9,"series":"South SN","set":"b"},{"year":1996.8,"sn":5,"series":"South SN","set":"b"},{"year":1997.5,"sn":9,"series":"South SN","set":"b"},{"year":1998.0,"sn":17,"series":"South SN","set":"b"},{"year":1998.6,"sn":47,"series":"South SN","set":"b"},{"year":1999.1,"sn":51,"series":"South SN","set":"b"},{"year":1999.8,"sn":73,"series":"South SN","set":"b"},{"year":2000.3,"sn":89,"series":"South SN","set":"b"},{"year":2001.0,"sn":69,"series":"South SN","set":"b"},{"year":2001.5,"sn":85,"series":"South SN","set":"b"},{"year":2002.0,"sn":97,"series":"South SN","set":"b"},{"year":2002.7,"sn":81,"series":"South SN","set":"b"},{"year":2003.4,"sn":53,"series":"South SN","set":"b"},{"year":2004.1,"sn":45,"series":"South SN","set":"b"},{"year":2004.8,"sn":33,"series":"South SN","set":"b"},{"year":2005.5,"sn":29,"series":"South SN","set":"b"},{"year":2006.2,"sn":25,"series":"South SN","set":"b"},{"year":2006.9,"sn":20,"series":"South SN","set":"b"},{"year":2007.6,"sn":14,"series":"South SN","set":"b"},{"year":2008.3,"sn":10,"series":"South SN","set":"b"},{"year":2009.0,"sn":3,"series":"South SN","set":"b"},{"year":2009.7,"sn":5,"series":"South SN","set":"b"},{"year":2010.4,"sn":9,"series":"South SN","set":"b"},{"year":2011.1,"sn":17,"series":"South SN","set":"b"},{"year":2011.8,"sn":33,"series":"South SN","set":"b"},{"year":2012.5,"sn":45,"series":"South SN","set":"b"},{"year":2013.1,"sn":43,"series":"South SN","set":"b"},{"year":2013.6,"sn":57,"series":"South SN","set":"b"},{"year":2014.1,"sn":81,"series":"South SN","set":"b"},{"year":2014.6,"sn":65,"series":"South SN","set":"b"},{"year":2015.1,"sn":45,"series":"South SN","set":"b"},{"year":2015.8,"sn":21,"series":"South SN","set":"b"},{"year":2016.5,"sn":9,"series":"South SN","set":"b"},{"year":2017.2,"sn":5,"series":"South SN","set":"b"},{"year":2017.9,"sn":5,"series":"South SN","set":"b"},{"year":2018.8,"sn":2,"series":"South SN","set":"b"},{"year":2019.8,"sn":0,"series":"South SN","set":"b"},

      {"year":1947.1,"sn":129,"series":"South SN","set":"c"},{"year":1947.6,"sn":113,"series":"South SN","set":"c"},{"year":1948.0,"sn":99,"series":"South SN","set":"c"},{"year":1948.5,"sn":105,"series":"South SN","set":"c"},{"year":1949.0,"sn":99,"series":"South SN","set":"c"},{"year":1949.5,"sn":85,"series":"South SN","set":"c"},{"year":1949.9,"sn":69,"series":"South SN","set":"c"},{"year":1950.6,"sn":53,"series":"South SN","set":"c"},{"year":1951.1,"sn":45,"series":"South SN","set":"c"},{"year":1951.6,"sn":41,"series":"South SN","set":"c"},{"year":1952.0,"sn":29,"series":"South SN","set":"c"},{"year":1952.5,"sn":21,"series":"South SN","set":"c"},{"year":1953.0,"sn":17,"series":"South SN","set":"c"},{"year":1953.4,"sn":9,"series":"South SN","set":"c"},{"year":1954.1,"sn":5,"series":"South SN","set":"c"},{"year":1954.6,"sn":9,"series":"South SN","set":"c"},{"year":1955.3,"sn":29,"series":"South SN","set":"c"},{"year":1956.0,"sn":77,"series":"South SN","set":"c"},{"year":1956.5,"sn":113,"series":"South SN","set":"c"},{"year":1956.95,"sn":145,"series":"South SN","set":"c"},{"year":1957.5,"sn":145,"series":"South SN","set":"c"},{"year":1958.0,"sn":141,"series":"South SN","set":"c"},{"year":1958.4,"sn":133,"series":"South SN","set":"c"},{"year":1958.8,"sn":85,"series":"South SN","set":"c"},{"year":1959.3,"sn":55,"series":"South SN","set":"c"},{"year":1960.0,"sn":59,"series":"South SN","set":"c"},{"year":1960.5,"sn":53,"series":"South SN","set":"c"},{"year":1961.2,"sn":33,"series":"South SN","set":"c"},{"year":1961.9,"sn":21,"series":"South SN","set":"c"},{"year":1962.6,"sn":17,"series":"South SN","set":"c"},{"year":1963.3,"sn":13,"series":"South SN","set":"c"},{"year":1964.0,"sn":9,"series":"South SN","set":"c"},{"year":1964.7,"sn":3,"series":"South SN","set":"c"},{"year":1965.4,"sn":5,"series":"South SN","set":"c"},{"year":1966.1,"sn":5,"series":"South SN","set":"c"},{"year":1966.8,"sn":21,"series":"South SN","set":"c"},{"year":1967.5,"sn":45,"series":"South SN","set":"c"},{"year":1968.2,"sn":61,"series":"South SN","set":"c"},{"year":1968.9,"sn":65,"series":"South SN","set":"c"},{"year":1969.6,"sn":69,"series":"South SN","set":"c"},{"year":1970.1,"sn":78,"series":"South SN","set":"c"},{"year":1970.5,"sn":53,"series":"South SN","set":"c"},{"year":1971.0,"sn":45,"series":"South SN","set":"c"},{"year":1971.7,"sn":57,"series":"South SN","set":"c"},{"year":1972.3,"sn":69,"series":"South SN","set":"c"},{"year":1972.7,"sn":53,"series":"South SN","set":"c"},{"year":1973.1,"sn":37,"series":"South SN","set":"c"},{"year":1973.7,"sn":29,"series":"South SN","set":"c"},{"year":1974.2,"sn":39,"series":"South SN","set":"c"},{"year":1974.8,"sn":9,"series":"South SN","set":"c"},{"year":1975.5,"sn":9,"series":"South SN","set":"c"},{"year":1976.2,"sn":11,"series":"South SN","set":"c"},{"year":1976.9,"sn":11,"series":"South SN","set":"c"},{"year":1977.6,"sn":17,"series":"South SN","set":"c"},{"year":1978.3,"sn":37,"series":"South SN","set":"c"},{"year":1978.8,"sn":81,"series":"South SN","set":"c"},{"year":1979.2,"sn":71,"series":"South SN","set":"c"},{"year":1979.7,"sn":89,"series":"South SN","set":"c"},{"year":1980.2,"sn":131,"series":"South SN","set":"c"},{"year":1980.6,"sn":113,"series":"South SN","set":"c"},{"year":1981.0,"sn":97,"series":"South SN","set":"c"},{"year":1981.3,"sn":115,"series":"South SN","set":"c"},{"year":1981.7,"sn":101,"series":"South SN","set":"c"},{"year":1982.2,"sn":89,"series":"South SN","set":"c"},{"year":1982.5,"sn":75,"series":"South SN","set":"c"},{"year":1983.0,"sn":77,"series":"South SN","set":"c"},{"year":1983.4,"sn":53,"series":"South SN","set":"c"},{"year":1983.9,"sn":45,"series":"South SN","set":"c"},{"year":1984.4,"sn":33,"series":"South SN","set":"c"},{"year":1984.8,"sn":21,"series":"South SN","set":"c"},{"year":1985.3,"sn":13,"series":"South SN","set":"c"},{"year":1986.0,"sn":9,"series":"South SN","set":"c"},{"year":1986.7,"sn":3,"series":"South SN","set":"c"},{"year":1987.4,"sn":13,"series":"South SN","set":"c"},{"year":1988.1,"sn":45,"series":"South SN","set":"c"},{"year":1988.7,"sn":85,"series":"South SN","set":"c"},{"year":1989.2,"sn":105,"series":"South SN","set":"c"},{"year":1989.5,"sn":111,"series":"South SN","set":"c"},{"year":1990.0,"sn":101,"series":"South SN","set":"c"},{"year":1990.5,"sn":107,"series":"South SN","set":"c"},{"year":1991.2,"sn":111,"series":"South SN","set":"c"},{"year":1991.6,"sn":121,"series":"South SN","set":"c"},{"year":1992.1,"sn":89,"series":"South SN","set":"c"},{"year":1992.6,"sn":61,"series":"South SN","set":"c"},{"year":1993.0,"sn":49,"series":"South SN","set":"c"},{"year":1993.8,"sn":41,"series":"South SN","set":"c"},{"year":1994.2,"sn":29,"series":"South SN","set":"c"},{"year":1994.8,"sn":25,"series":"South SN","set":"c"},{"year":1995.4,"sn":13,"series":"South SN","set":"c"},{"year":1996.1,"sn":9,"series":"South SN","set":"c"},{"year":1996.8,"sn":5,"series":"South SN","set":"c"},{"year":1997.5,"sn":11,"series":"South SN","set":"c"},{"year":1998.0,"sn":21,"series":"South SN","set":"c"},{"year":1998.6,"sn":49,"series":"South SN","set":"c"},{"year":1999.1,"sn":47,"series":"South SN","set":"c"},{"year":1999.8,"sn":77,"series":"South SN","set":"c"},{"year":2000.3,"sn":93,"series":"South SN","set":"c"},{"year":2001.0,"sn":65,"series":"South SN","set":"c"},{"year":2001.5,"sn":85,"series":"South SN","set":"c"},{"year":2001.9,"sn":99,"series":"South SN","set":"c"},{"year":2002.4,"sn":101,"series":"South SN","set":"c"},{"year":2002.9,"sn":77,"series":"South SN","set":"c"},{"year":2003.4,"sn":53,"series":"South SN","set":"c"},{"year":2004.1,"sn":45,"series":"South SN","set":"c"},{"year":2004.8,"sn":37,"series":"South SN","set":"c"},{"year":2005.5,"sn":33,"series":"South SN","set":"c"},{"year":2006.2,"sn":29,"series":"South SN","set":"c"},{"year":2006.9,"sn":23,"series":"South SN","set":"c"},{"year":2007.6,"sn":14,"series":"South SN","set":"c"},{"year":2008.3,"sn":7,"series":"South SN","set":"c"},{"year":2009.0,"sn":1,"series":"South SN","set":"c"},{"year":2009.7,"sn":3,"series":"South SN","set":"c"},{"year":2010.4,"sn":9,"series":"South SN","set":"c"},{"year":2011.1,"sn":17,"series":"South SN","set":"c"},{"year":2011.8,"sn":29,"series":"South SN","set":"c"},{"year":2012.4,"sn":49,"series":"South SN","set":"c"},{"year":2012.8,"sn":41,"series":"South SN","set":"c"},{"year":2013.3,"sn":49,"series":"South SN","set":"c"},{"year":2013.8,"sn":85,"series":"South SN","set":"c"},{"year":2014.2,"sn":77,"series":"South SN","set":"c"},{"year":2014.7,"sn":57,"series":"South SN","set":"c"},{"year":2015.2,"sn":37,"series":"South SN","set":"c"},{"year":2015.6,"sn":25,"series":"South SN","set":"c"},{"year":2016.0,"sn":17,"series":"South SN","set":"c"},{"year":2016.4,"sn":11,"series":"South SN","set":"c"}
    ]
  },
  "vconcat": [
    {
      "width": 1054.4, "height": 166.4,
      "resolve": {"axis": {"x": "independent", "y": "independent"}},
      "layer": [
        {
          "description": "white sheet behind all three panels; the blue background shows around it as a frame",
          "data": {"values": [{}]},
          "mark": {"type": "rect", "fill": "white"},
          "encoding": {
            "x": {"datum": 1863.228, "type": "quantitative", "scale": {"domain": [1875, 2020], "nice": false, "zero": false}, "axis": null},
            "x2": {"datum": 2023.574},
            "y": {"datum": 337.32, "type": "quantitative", "scale": {"domain": [0, 300], "nice": false, "zero": false}, "axis": null},
            "y2": {"datum": -930.1}
          }
        },
        {
          "data": {"name": "total"},
          "mark": {"type": "line", "strokeWidth": 1.8},
          "encoding": {
            "x": {"field": "year", "type": "quantitative", "scale": {"domain": [1875, 2020], "nice": false, "zero": false},
                  "axis": {"orient": "bottom", "zindex": 2, "values": [1880, 1900, 1920, 1940, 1960, 1980, 2000, 2020], "format": "d", "title": null, "labelPadding": 16}},
            "y": {"field": "sn", "type": "quantitative", "scale": {"domain": [0, 300], "nice": false, "zero": false},
                  "axis": {"orient": "left", "zindex": 2, "values": [0, 100, 200, 300], "title": null, "labelPadding": 8}},
            "color": {"datum": "Total SN", "type": "nominal", "scale": {"domain": ["Total SN"], "range": ["#1c1cd2"]},
                      "legend": {"legendX": 906.4, "legendY": 15.8}}
          }
        },
        {
          "data": {"values": [{"label": "(a)"}]},
          "mark": {"type": "text", "font": "Liberation Sans", "fontSize": 20, "color": "#262626", "align": "center", "baseline": "middle"},
          "encoding": {
            "text": {"field": "label"},
            "x": {"datum": 1887.29, "type": "quantitative", "scale": {"domain": [1875, 2020], "nice": false, "zero": false},
                  "axis": {"orient": "top", "zindex": 2, "labels": false, "values": [1880, 1900, 1920, 1940, 1960, 1980, 2000, 2020], "title": null}},
            "y": {"datum": 243.6, "type": "quantitative", "scale": {"domain": [0, 300], "nice": false, "zero": false},
                  "axis": {"orient": "right", "zindex": 2, "labels": false, "values": [0, 100, 200, 300], "title": null}}
          }
        },
        {
          "data": {"values": [{"label": "Total sunspot numbers"}]},
          "mark": {"type": "text", "font": "Lato", "fontWeight": "bold", "fontSize": 35, "color": "#000000", "align": "left", "baseline": "alphabetic"},
          "encoding": {
            "text": {"field": "label"},
            "x": {"datum": 1893.07, "type": "quantitative", "scale": {"domain": [1875, 2020], "nice": false, "zero": false}, "axis": null},
            "y": {"datum": 252.0, "type": "quantitative", "scale": {"domain": [0, 300], "nice": false, "zero": false}, "axis": null}
          }
        }
      ]
    },
    {
      "width": 1054.4, "height": 166.4,
      "resolve": {"axis": {"x": "independent", "y": "independent"}},
      "layer": [
        {
          "data": {"name": "hemi"},
          "transform": [{"filter": "indexof(datum.set, 'b') >= 0"}],
          "mark": {"type": "line", "strokeWidth": 1.8},
          "encoding": {
            "x": {"field": "year", "type": "quantitative", "scale": {"domain": [1875, 2020], "nice": false, "zero": false},
                  "axis": {"orient": "bottom", "values": [1880, 1900, 1920, 1940, 1960, 1980, 2000, 2020], "format": "d", "title": null, "labelPadding": 16}},
            "y": {"field": "sn", "type": "quantitative", "scale": {"domain": [0, 200], "nice": false, "zero": false},
                  "axis": {"orient": "left", "values": [0, 100, 200], "title": "Smoothed sunspot numbers", "labelPadding": 8, "titlePadding": 15}},
            "color": {"field": "series", "type": "nominal", "scale": {"domain": ["North SN", "South SN"], "range": ["#1a8a1a", "#e8201c"]},
                      "legend": {"legendX": 898.4, "legendY": 13.5}}
          }
        },
        {
          "data": {"values": [{"label": "(b)"}]},
          "mark": {"type": "text", "font": "Liberation Sans", "fontSize": 20, "color": "#262626", "align": "center", "baseline": "middle"},
          "encoding": {
            "text": {"field": "label"},
            "x": {"datum": 1887.36, "type": "quantitative", "scale": {"domain": [1875, 2020], "nice": false, "zero": false},
                  "axis": {"orient": "top", "labels": false, "values": [1880, 1900, 1920, 1940, 1960, 1980, 2000, 2020], "title": null}},
            "y": {"datum": 166.0, "type": "quantitative", "scale": {"domain": [0, 200], "nice": false, "zero": false},
                  "axis": {"orient": "right", "labels": false, "values": [0, 100, 200], "title": null}}
          }
        },
        {
          "data": {"values": [{"label": "Merged\u00a0 hemispheric SN"}]},
          "mark": {"type": "text", "font": "Lato", "fontWeight": "bold", "fontSize": 35, "color": "#000000", "align": "left", "baseline": "alphabetic"},
          "encoding": {
            "text": {"field": "label"},
            "x": {"datum": 1893.07, "type": "quantitative", "scale": {"domain": [1875, 2020], "nice": false, "zero": false}, "axis": null},
            "y": {"datum": 157.1, "type": "quantitative", "scale": {"domain": [0, 200], "nice": false, "zero": false}, "axis": null}
          }
        }
      ]
    },
    {
      "width": 1054.4, "height": 166.4,
      "resolve": {"axis": {"x": "independent", "y": "independent"}},
      "layer": [
        {
          "data": {"name": "hemi"},
          "transform": [{"filter": "indexof(datum.set, 'c') >= 0"}],
          "mark": {"type": "line", "strokeWidth": 1.8},
          "encoding": {
            "x": {"field": "year", "type": "quantitative", "scale": {"domain": [1875, 2020], "nice": false, "zero": false},
                  "axis": {"orient": "bottom", "values": [1880, 1900, 1920, 1940, 1960, 1980, 2000, 2020], "format": "d", "title": "Year", "labelPadding": 16, "titlePadding": 16}},
            "y": {"field": "sn", "type": "quantitative", "scale": {"domain": [0, 200], "nice": false, "zero": false},
                  "axis": {"orient": "left", "values": [0, 100, 200], "title": null, "labelPadding": 8}},
            "color": {"field": "series", "type": "nominal", "scale": {"domain": ["North SN", "South SN"], "range": ["#1a8a1a", "#e8201c"]},
                      "legend": {"legendX": 898.4, "legendY": 15.7}}
          }
        },
        {
          "data": {"values": [{"label": "(c)"}]},
          "mark": {"type": "text", "font": "Liberation Sans", "fontSize": 20, "color": "#262626", "align": "center", "baseline": "middle"},
          "encoding": {
            "text": {"field": "label"},
            "x": {"datum": 1887.29, "type": "quantitative", "scale": {"domain": [1875, 2020], "nice": false, "zero": false},
                  "axis": {"orient": "top", "labels": false, "values": [1880, 1900, 1920, 1940, 1960, 1980, 2000, 2020], "title": null}},
            "y": {"datum": 167.1, "type": "quantitative", "scale": {"domain": [0, 200], "nice": false, "zero": false},
                  "axis": {"orient": "right", "labels": false, "values": [0, 100, 200], "title": null}}
          }
        },
        {
          "data": {"values": [{"label": "Full-proxy hemispheric SN"}]},
          "mark": {"type": "text", "font": "Lato", "fontWeight": "bold", "fontSize": 35, "color": "#000000", "align": "left", "baseline": "alphabetic"},
          "encoding": {
            "text": {"field": "label"},
            "x": {"datum": 1893.07, "type": "quantitative", "scale": {"domain": [1875, 2020], "nice": false, "zero": false}, "axis": null},
            "y": {"datum": 151.1, "type": "quantitative", "scale": {"domain": [0, 200], "nice": false, "zero": false}, "axis": null}
          }
        }
      ]
    }
  ]
}
